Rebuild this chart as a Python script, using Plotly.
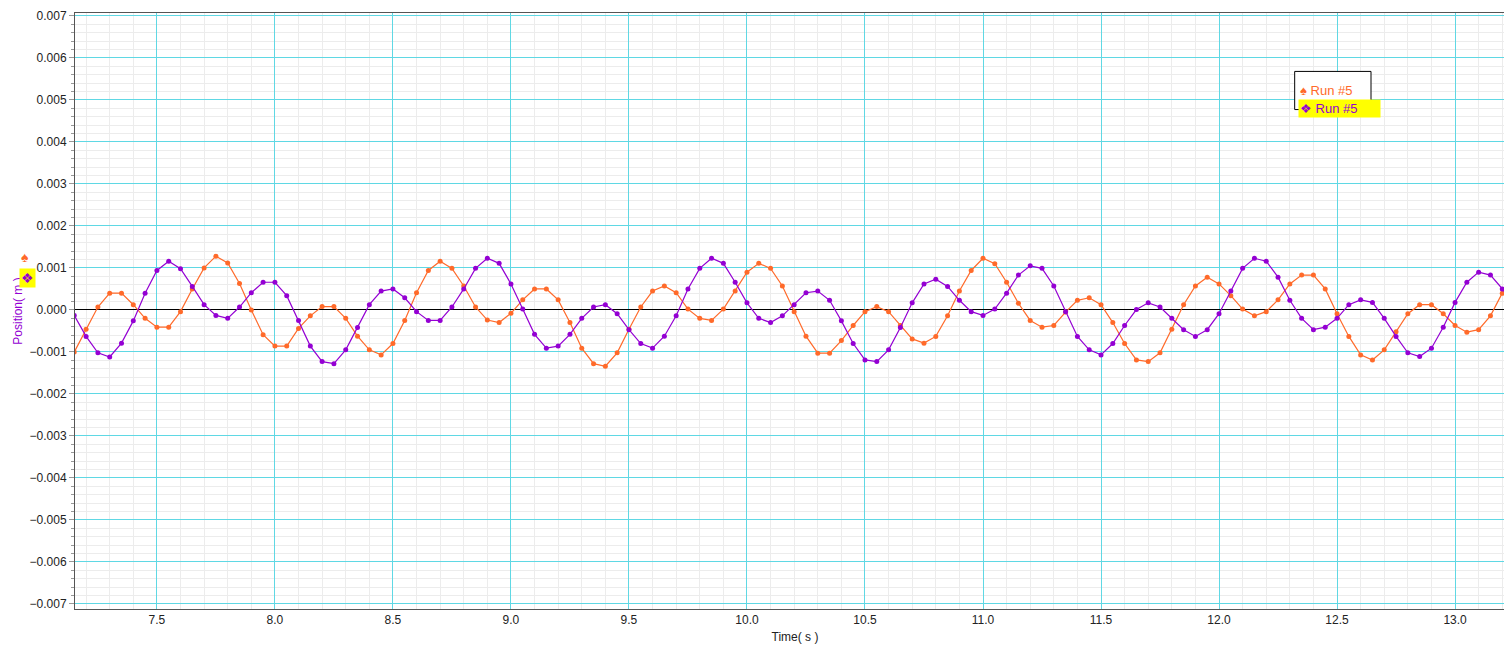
import numpy as np
import plotly.graph_objects as go

# time axis, sampled every 0.05 s
t_start = 7.15
t_step = 0.05

# positions in units of 0.0001 m
orange_pos = [
    -10, -4.6, 0.7, 4.0, 4.0, 1.25, -2.0, -4.1, -4.1, -0.4,
    5.0, 10, 12.8, 11.2, 6.3, 0, -5.9, -8.6, -8.6, -4.4,
    -1.4, 0.8, 0.8, -2.0, -6.25, -9.5, -10.7, -8.0, -2.5, 4.1,
    9.4, 11.6, 9.9, 5.7, 0.7, -2.4, -3.0, -0.8, 2.4, 5.0,
    5.0, 2.4, -3.0, -9.1, -12.8, -13.4, -10.2, -4.6, 0.7, 4.5,
    5.7, 4.1, 0.2, -2.0, -2.5, 0.2, 4.5, 9.0, 11.1, 9.9,
    5.7, -0.4, -6.25, -10.3, -10.3, -7.3, -3.7, -0.4, 0.8, -0.4,
    -3.7, -6.9, -7.9, -6.3, -1.4, 4.5, 9.4, 12.3, 11.0, 6.6,
    1.6, -2.5, -4.1, -3.7, -0.5, 2.3, 2.9, 1.25, -3.0, -8.0,
    -11.9, -12.3, -10.2, -4.6, 1.25, 5.7, 7.8, 6.2, 3.4, 0.2,
    -1.4, -0.4, 2.4, 6.2, 8.3, 8.3, 5.0, -0.9, -6.3, -10.7,
    -11.9, -9.5, -5.2, -0.9, 1.25, 1.25, -0.9, -3.7, -5.3, -4.7,
    -1.4, 4.0, 9.0,
]
purple_pos = [
    -1.3, -6.3, -10.2, -11.2, -7.9, -2.6, 4.0, 9.4, 11.6, 9.8,
    5.6, 1.25, -1.3, -2.0, 0.7, 4.1, 6.6, 6.6, 3.4, -2.5,
    -8.6, -12.3, -12.8, -9.5, -4.2, 1.25, 4.5, 5.0, 2.9, -0.4,
    -2.5, -2.5, 0.7, 5.0, 9.9, 12.3, 11.1, 6.2, 0.2, -5.8,
    -9.1, -8.6, -5.8, -2.0, 0.7, 1.25, -0.9, -4.7, -8.0, -9.1,
    -6.25, -1.4, 5.0, 9.9, 12.3, 11.1, 6.6, 1.7, -2.0, -3.0,
    -1.4, 1.25, 4.1, 4.5, 2.3, -2.6, -8.0, -11.9, -12.3, -9.5,
    -4.2, 1.7, 6.2, 7.3, 5.6, 2.3, -0.4, -1.3, 0.2, 4.0,
    8.3, 10.5, 9.9, 5.7, -0.4, -6.3, -9.5, -10.7, -8.0, -3.7,
    0.1, 1.7, 0.7, -2.0, -4.7, -6.3, -4.7, -0.9, 4.5, 9.9,
    12.3, 11.6, 7.8, 2.3, -2.0, -4.7, -4.1, -2.0, 1.25, 2.4,
    1.8, -2.0, -6.3, -10.2, -11.1, -9.1, -4.1, 1.8, 6.6, 9.0,
    8.3, 5.0, 1.8,
]

x_ticks = [7.5, 8.0, 8.5, 9.0, 9.5, 10.0, 10.5, 11.0, 11.5, 12.0, 12.5, 13.0]
x_tick_labels = [f"{v:.1f}" for v in x_ticks]

orange = "#ff6a2a"
purple = "#9400d3"
grid_major = "#5fd8e4"
grid_minor = "#ececec"

times = t_start + t_step * np.arange(len(orange_pos))

fig = go.Figure()
for ys, col in [(orange_pos, orange), (purple_pos, purple)]:
    fig.add_trace(go.Scatter(
        x=times, y=np.array(ys) * 1e-4,
        mode="lines+markers",
        line=dict(color=col, width=1.2),
        marker=dict(color=col, size=5),
        showlegend=False,
    ))

fig.update_xaxes(
    range=[7.153, 13.254], automargin=False,
    tickvals=x_ticks, ticktext=x_tick_labels,
    showgrid=True, gridcolor=grid_major, gridwidth=1,
    minor=dict(dtick=0.1, showgrid=True, gridcolor=grid_minor),
    showline=True, linecolor="#555555", mirror=True,
    zeroline=False,
    ticks="", tickfont=dict(size=12, color="#222222"),
    title=dict(text="Time( s )", font=dict(size=12, color="#222222"), standoff=6),
)
fig.update_yaxes(
    range=[-0.00712, 0.00707], automargin=False,
    dtick=0.001, tickformat=".3f",
    showgrid=True, gridcolor=grid_major, gridwidth=1,
    minor=dict(dtick=0.0002, showgrid=True, gridcolor=grid_minor, ticks="outside", ticklen=3, tickcolor="#999999"),
    showline=True, linecolor="#555555", mirror=True,
    zeroline=True, zerolinecolor="black", zerolinewidth=1,
    ticks="outside", ticklen=5, tickcolor="#999999",
    tickfont=dict(size=12, color="#222222"),
    title=dict(text="Position( m )", font=dict(size=12, color=purple), standoff=4),
)

# legend box drawn by hand
fig.add_shape(type="rect", xref="paper", yref="paper",
              x0=0.847, x1=0.9, y0=0.838, y1=0.902,
              line=dict(color="black", width=1), fillcolor="white")
fig.add_annotation(xref="paper", yref="paper", x=0.849, y=0.886, xanchor="left",
                   text="♠ Run #5", showarrow=False, font=dict(size=13, color=orange))
fig.add_annotation(xref="paper", yref="paper", x=0.849, y=0.855, xanchor="left",
                   text="❖ Run #5      ", showarrow=False, bgcolor="yellow",
                   font=dict(size=13, color=purple))
# axis title icons
fig.add_annotation(xref="paper", yref="paper", x=-0.039, y=0.59,
                   text="♠", showarrow=False, font=dict(size=14, color=orange))
fig.add_annotation(xref="paper", yref="paper", x=-0.039, y=0.555,
                   text="❖", showarrow=False, bgcolor="yellow", font=dict(size=14, color=purple))

fig.update_layout(
    width=1512, height=647,
    margin=dict(l=67, r=5, t=5, b=46),
    plot_bgcolor="white", paper_bgcolor="white",
    font=dict(family="Arial, Liberation Sans, sans-serif"),
)

fig.write_html("out.html")
